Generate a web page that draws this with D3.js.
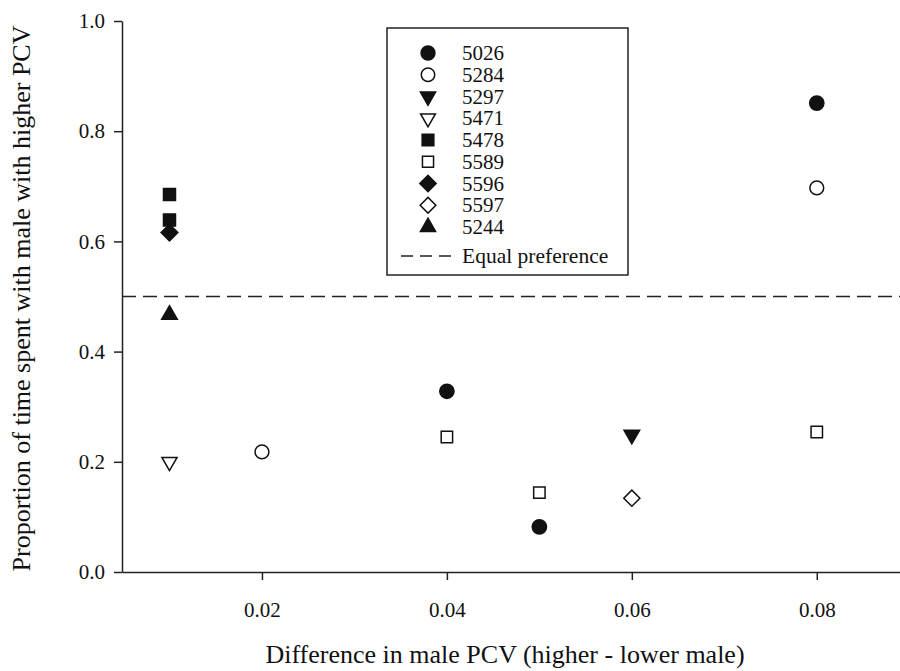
<!DOCTYPE html>
<html>
<head>
<meta charset="utf-8">
<script src="https://cdn.jsdelivr.net/npm/d3@7"></script>
<style>
  body { margin: 0; background: #fff; }
  svg text { font-family: "Liberation Serif", "DejaVu Serif", serif !important; fill: #111; }
</style>
</head>
<body>
<svg width="900" height="671"></svg>
<script>
// series names, in legend order
const series = ["5026", "5284", "5297", "5471", "5478", "5589", "5596", "5597", "5244"];

// x = difference in male PCV, y = proportion of time
const pts5026 = [[0.08, 0.851], [0.04, 0.328], [0.05, 0.082]];
const pts5284 = [[0.08, 0.697], [0.02, 0.218]];
const pts5297 = [[0.06, 0.249]];
const pts5471 = [[0.01, 0.2]];
const pts5478 = [[0.01, 0.685], [0.01, 0.639]];
const pts5589 = [[0.04, 0.245], [0.05, 0.144], [0.08, 0.254]];
const pts5596 = [[0.01, 0.616]];
const pts5597 = [[0.06, 0.134]];
const pts5244 = [[0.01, 0.467]];

const xTicks = [0.02, 0.04, 0.06, 0.08];
const yTicks = [0, 0.2, 0.4, 0.6, 0.8, 1.0];
const equalPref = 0.5;

const points = [pts5026, pts5284, pts5297, pts5471, pts5478, pts5589, pts5596, pts5597, pts5244];

// marker style per series
const styles = [
  { type: d3.symbolCircle, size: 160, fill: true, rot: 0 },
  { type: d3.symbolCircle, size: 150, fill: false, rot: 0 },
  { type: d3.symbolTriangle, size: 105, fill: true, rot: 180 },
  { type: d3.symbolTriangle, size: 100, fill: false, rot: 180 },
  { type: d3.symbolSquare, size: 144, fill: true, rot: 0 },
  { type: d3.symbolSquare, size: 130, fill: false, rot: 0 },
  { type: d3.symbolSquare, size: 140, fill: true, rot: 45 },
  { type: d3.symbolSquare, size: 130, fill: false, rot: 45 },
  { type: d3.symbolTriangle, size: 105, fill: true, rot: 0 },
];

const svg = d3.select("svg");
const margin = { left: 122, top: 21, right: 0, bottom: 99 };
const width = 900, height = 671;

const x = d3.scaleLinear().domain([0.004865, 0.089]).range([margin.left, width - margin.right]);
const y = d3.scaleLinear().domain([0, 1]).range([height - margin.bottom, margin.top]);

// axes
svg.append("g")
  .attr("transform", `translate(${margin.left},0)`)
  .call(d3.axisLeft(y).tickValues(yTicks).tickFormat(d3.format(".1f")).tickSize(8).tickPadding(9).tickSizeOuter(0));

svg.append("g")
  .attr("transform", `translate(0,${y(0)})`)
  .call(d3.axisBottom(x).tickValues(xTicks).tickFormat(d3.format(".2f")).tickSize(8).tickPadding(22).tickSizeOuter(0));

svg.selectAll(".domain, .tick line").attr("stroke", "#222").attr("stroke-width", 1.5);
svg.selectAll(".tick text").attr("font-size", 21).attr("fill", "#111");

// equal preference line
svg.append("line")
  .attr("x1", x.range()[0]).attr("x2", x.range()[1])
  .attr("y1", y(equalPref)).attr("y2", y(equalPref))
  .attr("stroke", "#222").attr("stroke-width", 1.5)
  .attr("stroke-dasharray", "14,7");

// points
points.forEach(function (pts, i) {
  const s = styles[i];
  svg.append("g").selectAll("path")
    .data(pts)
    .join("path")
    .attr("d", d3.symbol().type(s.type).size(s.size))
    .attr("transform", d => `translate(${x(d[0])},${y(d[1])}) rotate(${s.rot})`)
    .attr("fill", s.fill ? "#111" : "#fff")
    .attr("stroke", "#111")
    .attr("stroke-width", 1.5);
});

// legend
const legend = svg.append("g").attr("transform", "translate(387,28)");
legend.append("rect")
  .attr("width", 241).attr("height", 247)
  .attr("fill", "#fff").attr("stroke", "#222").attr("stroke-width", 1.5);

series.forEach(function (name, i) {
  const s = styles[i];
  const ly = 25 + i * 21.75;
  legend.append("path")
    .attr("d", d3.symbol().type(s.type).size(s.size * 0.95))
    .attr("transform", `translate(41,${ly}) rotate(${s.rot})`)
    .attr("fill", s.fill ? "#111" : "#fff")
    .attr("stroke", "#111")
    .attr("stroke-width", 1.5);
  legend.append("text")
    .attr("x", 75).attr("y", ly + 7)
    .attr("font-size", 21)
    .text(name);
});

legend.append("line")
  .attr("x1", 14).attr("x2", 65)
  .attr("y1", 228).attr("y2", 228)
  .attr("stroke", "#222").attr("stroke-width", 1.5)
  .attr("stroke-dasharray", "12,7");
legend.append("text")
  .attr("x", 75).attr("y", 235)
  .attr("font-size", 21.5)
  .text("Equal preference");

// axis titles
svg.append("text")
  .attr("x", 505).attr("y", 663)
  .attr("text-anchor", "middle")
  .attr("font-size", 26)
  .text("Difference in male PCV (higher - lower male)");

svg.append("text")
  .attr("transform", `translate(30,${(y(0) + y(1)) / 2 + 2}) rotate(-90)`)
  .attr("text-anchor", "middle")
  .attr("font-size", 26)
  .text("Proportion of time spent with male with higher PCV");
</script>
</body>
</html>
